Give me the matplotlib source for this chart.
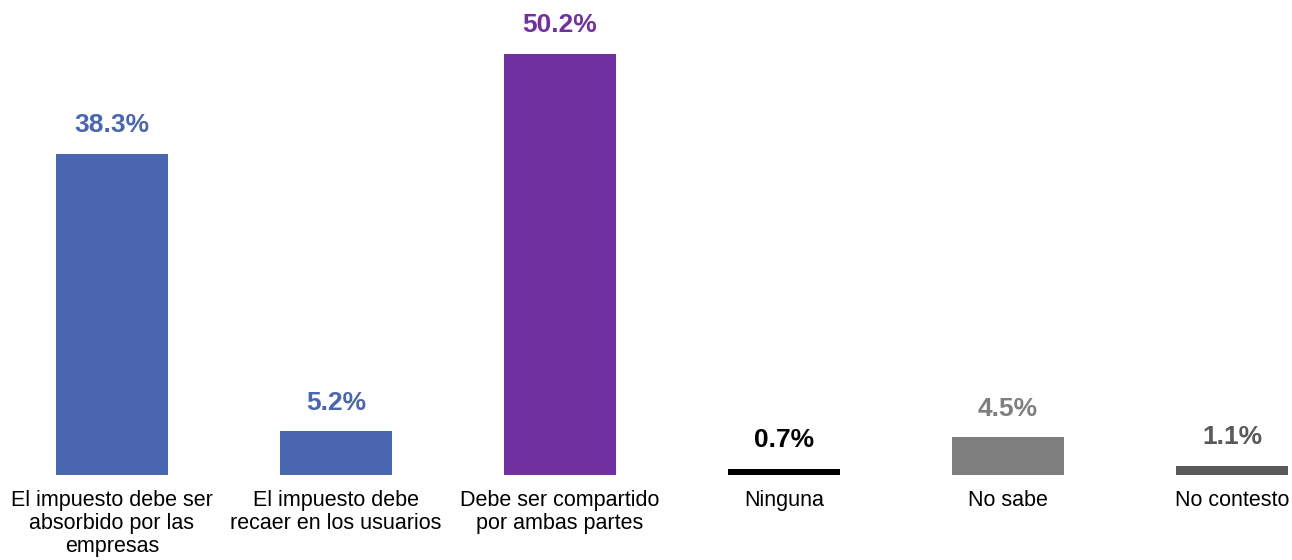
import matplotlib.pyplot as plt

categories = ['El impuesto debe ser\nabsorbido por las\nempresas',
              'El impuesto debe\nrecaer en los usuarios',
              'Debe ser compartido\npor ambas partes',
              'Ninguna', 'No sabe', 'No contesto']
values = [38.3, 5.2, 50.2, 0.7, 4.5, 1.1]
bar_colors = ['#4A66B0', '#4A66B0', '#7030A0', '#000000', '#7F7F7F', '#595959']
label_colors = ['#4A66B0', '#4A66B0', '#7030A0', '#000000', '#7F7F7F', '#595959']

plt.rcParams['font.family'] = ['Liberation Sans', 'DejaVu Sans']

fig = plt.figure(figsize=(12.92, 5.6), dpi=100)
ax = fig.add_axes([0, 85 / 560, 1, 475 / 560])

x = list(range(len(values)))
ax.bar(x, values, width=0.5, color=bar_colors)

for xi, v, c in zip(x, values, label_colors):
    ax.annotate(f'{v:.1f}%', (xi, v), xytext=(0, 12), textcoords='offset points',
                ha='center', va='bottom', fontsize=19, fontweight='bold', color=c)

ax.set_xlim(-0.5, (1292 - 112) / 224)
ax.set_ylim(0, 475 / 8.39)
ax.set_xticks(x)
ax.set_xticklabels(categories, fontsize=15.5, linespacing=1.12)
ax.tick_params(axis='x', length=0, pad=11)
ax.set_yticks([])
for s in ax.spines.values():
    s.set_visible(False)

fig.savefig('out.png', dpi=100)
